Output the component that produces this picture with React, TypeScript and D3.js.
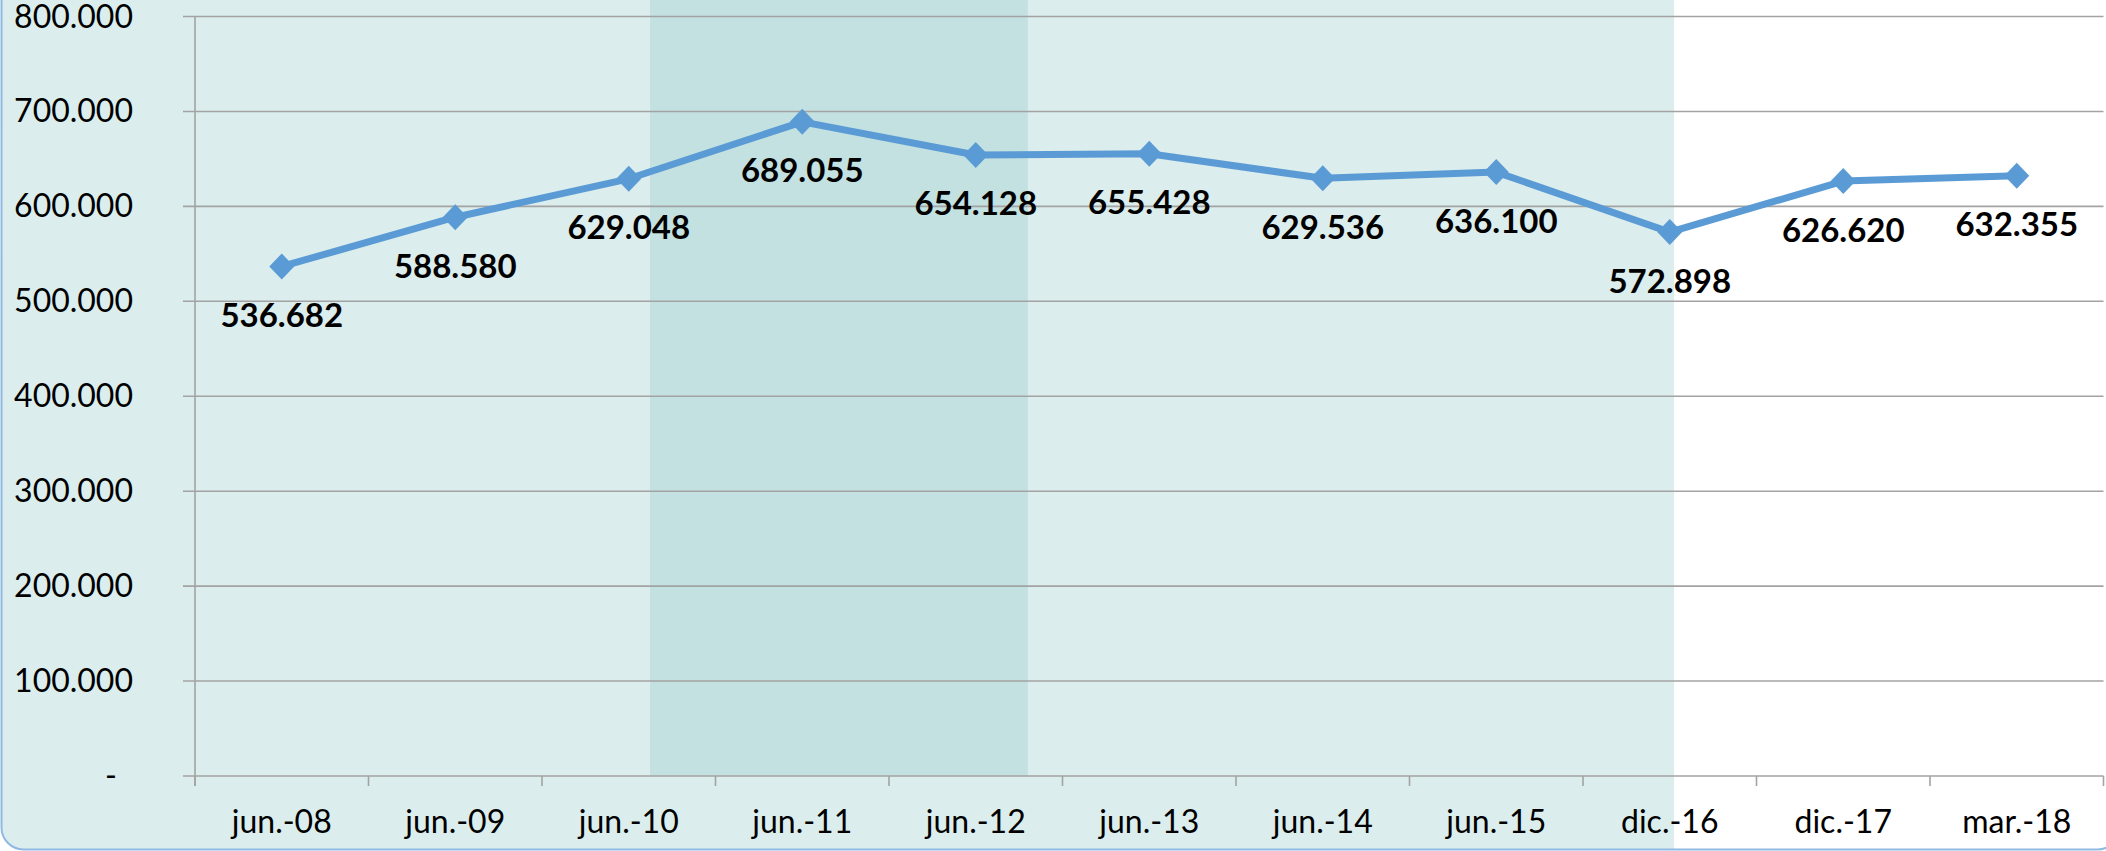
import React from "react";
import * as d3 from "d3";

const categories = ["jun.-08", "jun.-09", "jun.-10", "jun.-11", "jun.-12", "jun.-13", "jun.-14", "jun.-15", "dic.-16", "dic.-17", "mar.-18"];
const values = [536682, 588580, 629048, 689055, 654128, 655428, 629536, 636100, 572898, 626620, 632355];
const yTicks = [0, 100000, 200000, 300000, 400000, 500000, 600000, 700000, 800000];

const W = 2106;
const H = 851;
const left = 195;
const right = 2103.5;
const top = 16.5;
const bottom = 776;

// background shading spans, in category units
const darkBandFrom = 2.623;
const darkBandTo = 4.8;
const lightShadeTo = 8.525;

const fmtThousands = (v: number) => (v === 0 ? "-" : d3.format(",.0f")(v / 1000).replace(/,/g, ".") + ".000");
const fmtVal = (v: number) => d3.format(",")(v).replace(/,/g, ".");

export default function App() {
  const xBand = d3.scaleBand<string>().domain(categories).range([left, right]).padding(0);
  const xUnit = d3.scaleLinear().domain([0, categories.length]).range([left, right]);
  const y = d3.scaleLinear().domain([0, 800000]).range([bottom, top]);
  const cx = (c: string) => (xBand(c) as number) + xBand.bandwidth() / 2;

  const line = d3
    .line<number>()
    .x((_, i) => cx(categories[i]))
    .y((d) => y(d));

  const font = "Lato, 'Open Sans', sans-serif";
  const diamond = (x: number, yy: number) => `M${x},${yy - 13}L${x + 12.5},${yy}L${x},${yy + 13}L${x - 12.5},${yy}Z`;

  return (
    <svg width={W} height={H} style={{ position: "absolute", left: 0, top: 0 }} viewBox={`0 0 ${W} ${H}`}>
      <defs>
        <clipPath id="card">
          <rect x={1.5} y={-40} width={2118} height={889.5} rx={22} ry={22} />
        </clipPath>
      </defs>
      <rect x={0} y={0} width={W} height={H} fill="#ffffff" />
      <g clipPath="url(#card)">
        <rect x={0} y={-40} width={xUnit(lightShadeTo)} height={H + 40} fill="#DBEDEC" />
        <rect x={xUnit(darkBandFrom)} y={-40} width={xUnit(darkBandTo) - xUnit(darkBandFrom)} height={bottom + 40} fill="#C3E1E0" />
      </g>
      <rect x={1.5} y={-40} width={2118} height={889.5} rx={22} ry={22} fill="none" stroke="#8FB9E3" strokeWidth={2} />

      {/* gridlines */}
      {yTicks.map((t) => (
        <line key={t} x1={left - 12} x2={right} y1={y(t)} y2={y(t)} stroke="#A3A3A3" strokeWidth={1.6} />
      ))}
      {/* y axis */}
      <line x1={left} x2={left} y1={top} y2={bottom + 10} stroke="#A3A3A3" strokeWidth={1.6} />
      {/* x ticks */}
      {d3.range(categories.length + 1).map((i) => (
        <line key={i} x1={xUnit(i)} x2={xUnit(i)} y1={bottom} y2={bottom + 10} stroke="#A3A3A3" strokeWidth={1.6} />
      ))}

      {/* y labels */}
      {yTicks.map((t) => (
        <text key={t} x={t === 0 ? 117 : 133} y={y(t) + 11} textAnchor="end" fontFamily={font} fontSize={32} fill="#000">
          {fmtThousands(t)}
        </text>
      ))}

      {/* x labels */}
      {categories.map((c) => (
        <text key={c} x={cx(c)} y={833} textAnchor="middle" fontFamily={font} fontSize={32} fill="#000">
          {c}
        </text>
      ))}

      {/* line */}
      <path d={line(values) as string} fill="none" stroke="#5B9BD5" strokeWidth={7} strokeLinejoin="round" />
      {values.map((v, i) => (
        <path key={i} d={diamond(cx(categories[i]), y(v))} fill="#5B9BD5" />
      ))}

      {/* data labels */}
      {values.map((v, i) => (
        <text key={i} x={cx(categories[i])} y={y(v) + 60.5} textAnchor="middle" fontFamily={font} fontWeight={700} fontSize={33} fill="#000">
          {fmtVal(v)}
        </text>
      ))}
    </svg>
  );
}
